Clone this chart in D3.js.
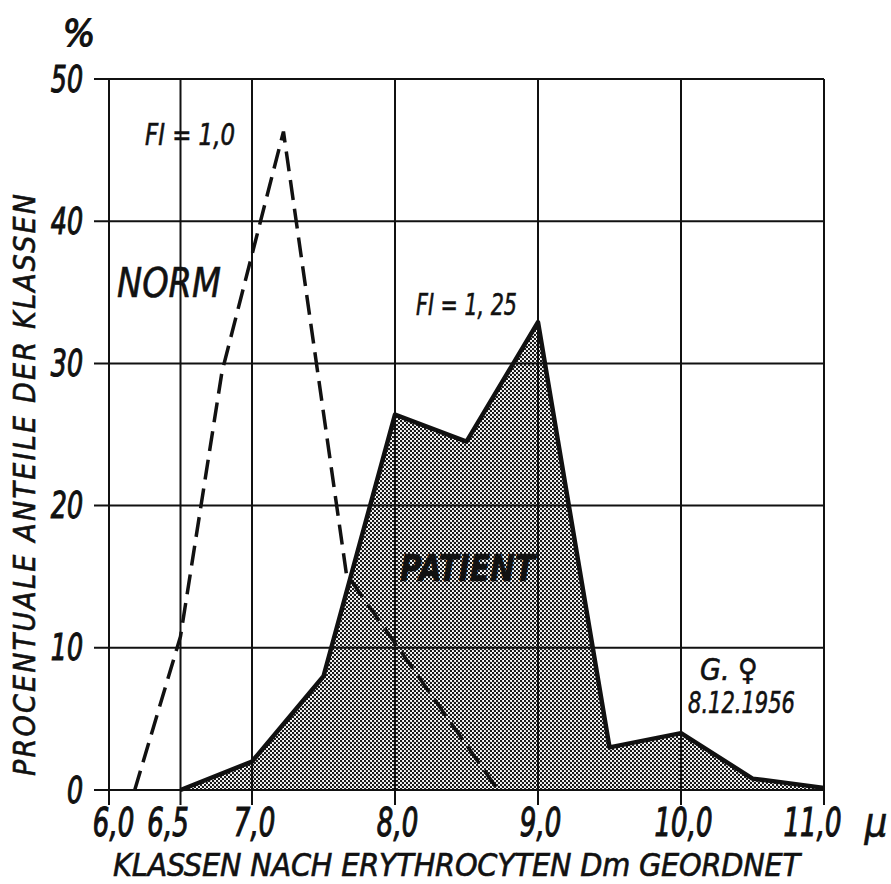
<!DOCTYPE html>
<html>
<head>
<meta charset="utf-8">
<script src="https://cdnjs.cloudflare.com/ajax/libs/d3/7.8.5/d3.min.js"></script>
<style>
	body { margin: 0; background: #fff; }
	text { font-family: "DejaVu Sans Condensed", "DejaVu Sans", sans-serif; font-style: italic; fill: #111; stroke: #111; stroke-width: 0.6; }
	.tick text { stroke-width: 1.1; }
</style>
</head>
<body>
<div id="chart"></div>
<script>
// ----------------------------------------
// DATA

var xTicks = [6.0, 6.5, 7.0, 8.0, 9.0, 10.0, 11.0];
var yTicks = [0, 10, 20, 30, 40, 50];

// norm curve (dashed)
var normX = [6.18, 6.5, 6.79, 7.22, 7.66, 8.72];
var normY = [0, 10.8, 29.4, 46.3, 15.2, 0];

// patient curve (filled)
var patientX = [6.5, 7.0, 7.5, 8.0, 8.5, 9.0, 9.5, 10.0, 10.5, 11.0];
var patientY = [0, 2.0, 8.0, 26.4, 24.5, 32.9, 3.0, 4.0, 0.8, 0.15];

// ----------------------------------------
// SETUP

var width = 891;
var height = 884;

var svg = d3.select("#chart").append("svg")
	.attr("width", width)
	.attr("height", height);

var x = d3.scaleLinear().domain([6, 11]).range([109, 824]);
var y = d3.scaleLinear().domain([0, 50]).range([790, 79]);

// squeeze glyphs horizontally (hand lettering is narrow)
function condense(sel, k) {
	sel.each(function () {
		var w = this.getComputedTextLength();
		d3.select(this)
			.attr("textLength", w * k)
			.attr("lengthAdjust", "spacingAndGlyphs");
	});
}

// halftone dots for the patient area
var pat = svg.append("defs").append("pattern")
	.attr("id", "dots")
	.attr("width", 4).attr("height", 4)
	.attr("patternUnits", "userSpaceOnUse");
pat.append("rect").attr("width", 4).attr("height", 4).attr("fill", "#fff");
pat.append("circle").attr("cx", 1).attr("cy", 1).attr("r", 1.2).attr("fill", "#111");
pat.append("circle").attr("cx", 3).attr("cy", 3).attr("r", 1.2).attr("fill", "#111");

var patient = patientX.map(function (d, i) { return [d, patientY[i]]; });
var norm = normX.map(function (d, i) { return [d, normY[i]]; });

// ----------------------------------------
// AREA

var area = d3.area()
	.x(function (d) { return x(d[0]); })
	.y0(y(0))
	.y1(function (d) { return y(d[1]); });

svg.append("path")
	.attr("d", area(patient))
	.attr("fill", "url(#dots)");

// ----------------------------------------
// GRID

svg.selectAll(".hgrid").data(yTicks).join("line")
	.attr("class", "hgrid")
	.attr("x1", x(6) - 15).attr("x2", x(11))
	.attr("y1", function (d) { return y(d); })
	.attr("y2", function (d) { return y(d); })
	.attr("stroke", "#111").attr("stroke-width", 2);

svg.selectAll(".vgrid").data(xTicks).join("line")
	.attr("class", "vgrid")
	.attr("x1", function (d) { return x(d); })
	.attr("x2", function (d) { return x(d); })
	.attr("y1", y(50)).attr("y2", y(0) + 15)
	.attr("stroke", "#111").attr("stroke-width", 2);

// ----------------------------------------
// LINES

var line = d3.line()
	.x(function (d) { return x(d[0]); })
	.y(function (d) { return y(d[1]); });

svg.append("path")
	.attr("d", line(patient))
	.attr("fill", "none")
	.attr("stroke", "#111")
	.attr("stroke-width", 4.5)
	.attr("stroke-linejoin", "round");

svg.append("path")
	.attr("d", line(norm))
	.attr("fill", "none")
	.attr("stroke", "#111")
	.attr("stroke-width", 3.5)
	.attr("stroke-dasharray", "20,9");

// ----------------------------------------
// AXES LABELS

var yAxis = svg.append("g")
	.attr("transform", "translate(" + (x(6) - 15) + ",0)")
	.call(d3.axisLeft(y).tickValues(yTicks).tickSize(0).tickPadding(11));
yAxis.select(".domain").remove();
yAxis.selectAll("text")
	.attr("font-size", 38)
	.attr("font-family", null)
	.attr("fill", null)
	.call(condense, 0.74);

var labelShift = { 6.0: 4, 6.5: -13, 11.0: -12 };

var xAxis = svg.append("g")
	.attr("transform", "translate(0," + y(0) + ")")
	.call(d3.axisBottom(x).tickValues(xTicks).tickSize(0).tickPadding(18)
		.tickFormat(function (d) { return d3.format(".1f")(d).replace(".", ","); }));
xAxis.select(".domain").remove();
xAxis.selectAll("text")
	.attr("font-size", 39)
	.attr("font-family", null)
	.attr("fill", null)
	.attr("dx", function (d) { return labelShift[d] || 2; })
	.call(condense, 0.74);

svg.append("text")
	.attr("x", 876).attr("y", 836)
	.attr("text-anchor", "middle")
	.attr("font-size", 40)
	.text("μ");

svg.append("text")
	.attr("x", 79).attr("y", 46)
	.attr("text-anchor", "middle")
	.attr("font-size", 38)
	.style("stroke-width", 1.2)
	.text("%");

svg.append("text")
	.attr("x", 113).attr("y", 876)
	.attr("font-size", 32)
	.attr("textLength", 687)
	.attr("lengthAdjust", "spacing")
	.text("KLASSEN NACH ERYTHROCYTEN Dm GEORDNET");

svg.append("text")
	.attr("transform", "translate(35,776) rotate(-90)")
	.attr("font-size", 30)
	.attr("textLength", 582)
	.attr("lengthAdjust", "spacing")
	.text("PROCENTUALE ANTEILE DER KLASSEN");

// ----------------------------------------
// ANNOTATIONS

svg.append("text")
	.attr("x", 145).attr("y", 145)
	.attr("font-size", 30)
	.attr("textLength", 90)
	.attr("lengthAdjust", "spacingAndGlyphs")
	.text("FI  = 1,0");

svg.append("text")
	.attr("x", 117).attr("y", 297)
	.attr("font-size", 40)
	.attr("textLength", 104)
	.attr("lengthAdjust", "spacingAndGlyphs")
	.text("NORM");

svg.append("text")
	.attr("x", 416).attr("y", 315)
	.attr("font-size", 30)
	.attr("textLength", 101)
	.attr("lengthAdjust", "spacingAndGlyphs")
	.text("FI = 1, 25");

svg.append("text")
	.attr("x", 400).attr("y", 581)
	.attr("font-size", 38)
	.attr("font-weight", "bold")
	.attr("textLength", 135)
	.attr("lengthAdjust", "spacingAndGlyphs")
	.text("PATIENT");

svg.append("text")
	.attr("x", 700).attr("y", 680)
	.attr("font-size", 30)
	.text("G.  ♀");

svg.append("text")
	.attr("x", 688).attr("y", 713)
	.attr("font-size", 30)
	.attr("textLength", 107)
	.attr("lengthAdjust", "spacingAndGlyphs")
	.text("8.12.1956");
</script>
</body>
</html>
